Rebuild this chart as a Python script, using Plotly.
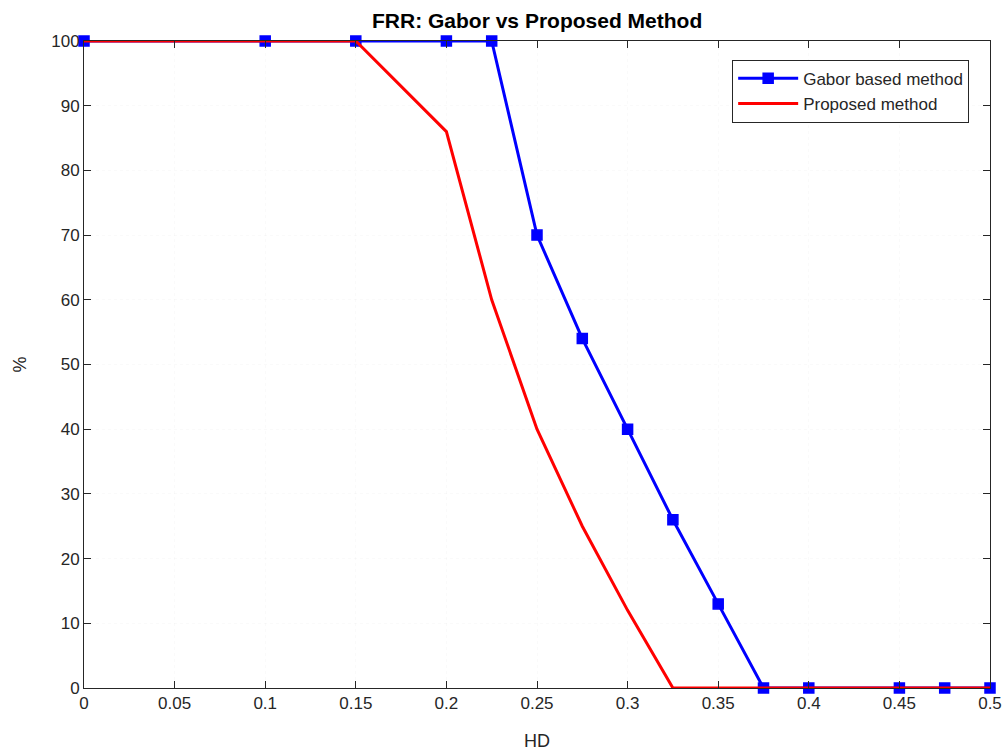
import plotly.graph_objects as go

hd = [0, 0.1, 0.15, 0.2, 0.225, 0.25, 0.275, 0.3, 0.325, 0.35, 0.375, 0.4, 0.45, 0.475, 0.5]
gabor = [100, 100, 100, 100, 100, 70, 54, 40, 26, 13, 0, 0, 0, 0, 0]
proposed = [100, 100, 100, 86, 60, 40, 25, 12, 0, 0, 0, 0, 0, 0, 0]

x_ticks = [0, 0.05, 0.1, 0.15, 0.2, 0.25, 0.3, 0.35, 0.4, 0.45, 0.5]
x_ticklabels = ["0", "0.05", "0.1", "0.15", "0.2", "0.25", "0.3", "0.35", "0.4", "0.45", "0.5"]
y_ticks = [0, 10, 20, 30, 40, 50, 60, 70, 80, 90, 100]

FONT = "Arial, Liberation Sans, sans-serif"

fig = go.Figure()
fig.add_trace(go.Scatter(
    x=hd, y=gabor, mode="lines+markers", name="Gabor based method",
    line=dict(color="#0000ff", width=3),
    marker=dict(symbol="square", size=10, color="#0000ff", line=dict(color="#0000ff", width=1.5)),
    cliponaxis=False,
))
fig.add_trace(go.Scatter(
    x=hd, y=proposed, mode="lines", name="Proposed method",
    line=dict(color="#ff0000", width=3),
    cliponaxis=False,
))

axis_common = dict(
    showline=True, linecolor="#262626", linewidth=1, mirror="ticks",
    ticks="inside", ticklen=7, tickcolor="#262626",
    showgrid=True, gridcolor="rgba(0,0,0,0.02)", griddash="dot", gridwidth=1,
    zeroline=False, automargin=False,
    tickfont=dict(family=FONT, size=17, color="#262626"),
)

fig.update_layout(
    width=1004, height=753,
    paper_bgcolor="white", plot_bgcolor="white",
    margin=dict(l=84, r=14, t=41, b=65),
    title=dict(text="<b>FRR: Gabor vs Proposed Method</b>", x=0.535, xanchor="center",
               y=0.973, yanchor="middle",
               font=dict(family=FONT, size=21, color="black")),
    xaxis=dict(range=[0, 0.5], tickvals=x_ticks, ticktext=x_ticklabels,
               title=dict(text="HD", font=dict(family=FONT, size=18, color="#262626"), standoff=21),
               **axis_common),
    yaxis=dict(range=[0, 100], tickvals=y_ticks,
               title=dict(text="%", font=dict(family=FONT, size=18, color="#262626"), standoff=19),
               **axis_common),
    legend=dict(x=0.977, y=0.971, xanchor="right", yanchor="top",
                bgcolor="white", bordercolor="#262626", borderwidth=1,
                font=dict(family=FONT, size=17, color="#262626"),
                tracegroupgap=2, itemwidth=60),
    showlegend=True,
)

fig.write_html(
    "out.html",
    config={"displayModeBar": False},
    post_script="document.body.style.margin='0';document.body.style.overflow='hidden';",
)
